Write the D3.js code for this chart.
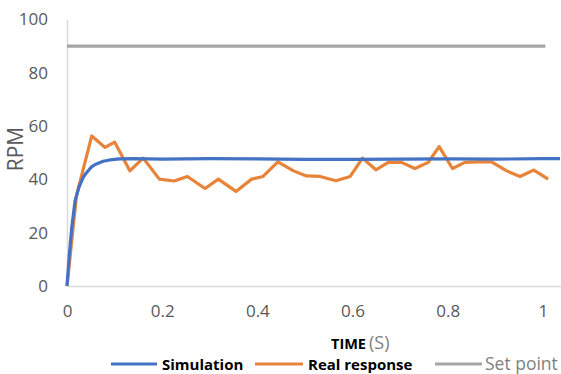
<!DOCTYPE html>
<html>
<head>
<meta charset="utf-8">
<script src="https://cdn.jsdelivr.net/npm/d3@7"></script>
<style>
  body { margin: 0; background: #fff; }
  svg { display: block; font-family: "Open Sans", sans-serif; }
</style>
</head>
<body>
<svg></svg>
<script>
const size = {w: 561, h: 374};

// values
const simTime = [0, 0.005, 0.01, 0.017, 0.025, 0.034, 0.041, 0.052, 0.062, 0.076, 0.09, 0.11, 0.14, 0.2, 0.3, 0.4, 0.5, 0.6, 0.7, 0.8, 0.9, 1.0, 1.036];
const simRpm  = [0, 12, 22, 32, 37, 40.8, 42.5, 44.8, 45.8, 46.8, 47.3, 47.7, 47.8, 47.6, 47.8, 47.7, 47.5, 47.5, 47.6, 47.7, 47.6, 47.8, 47.8];

const realTime = [0, 0.02, 0.052, 0.08, 0.1, 0.132, 0.16, 0.194, 0.225, 0.253, 0.29, 0.318, 0.355, 0.388, 0.412, 0.443,
                  0.476, 0.503, 0.532, 0.565, 0.595, 0.621, 0.649, 0.675, 0.703, 0.731, 0.759, 0.782, 0.81, 0.836,
                  0.864, 0.892, 0.924, 0.952, 0.981, 1.011];
const realRpm  = [0, 34, 56.3, 52, 54, 43.2, 48, 40.1, 39.4, 41.1, 36.6, 40.1, 35.5, 40.1, 41.1, 46.6,
                  43.2, 41.3, 41.1, 39.5, 41.1, 48, 43.6, 46.4, 46.4, 44.1, 46.4, 52.3, 44.1, 46.4,
                  46.6, 46.6, 43.2, 41.1, 43.5, 40.1];

const setTime = [0, 1.005];
const setRpm  = [90, 90];

const xTicks = [0, 0.2, 0.4, 0.6, 0.8, 1];
const yTicks = [0, 20, 40, 60, 80, 100];

const series = [
    {name: 'Simulation', t: simTime, v: simRpm, color: '#4472c4'},
    {name: 'Real response', t: realTime, v: realRpm, color: '#e8833a'},
    {name: 'Set point', t: setTime, v: setRpm, color: '#a5a5a5'}
];

const svg = d3.select('svg')
    .attr('width', size.w)
    .attr('height', size.h);

const x = d3.scaleLinear().domain([0, 1.038]).range([67, 561]);
const y = d3.scaleLinear().domain([0, 100]).range([286, 19.5]);

// axes
let xAxis = svg.append('g')
    .attr('transform', `translate(0,${y(0)})`)
    .call(d3.axisBottom(x).tickValues(xTicks).tickSize(0).tickPadding(19).tickFormat(d3.format('~g')));

let yAxis = svg.append('g')
    .attr('transform', `translate(${x(0)},0)`)
    .call(d3.axisLeft(y).tickValues(yTicks).tickSize(0).tickPadding(19));

svg.selectAll('.domain')
    .attr('stroke', '#d9d9d9')
    .attr('stroke-width', 1.5);

svg.selectAll('.tick text')
    .attr('fill', '#595959')
    .style('font-size', '17px')
    .style('font-family', '"Open Sans", sans-serif');

// lines
let line = d3.line()
    .x(d => x(d[0]))
    .y(d => y(d[1]));

svg.append('g').selectAll('path')
    .data(series.slice().reverse())
    .join('path')
    .attr('d', s => line(d3.zip(s.t, s.v)))
    .attr('fill', 'none')
    .attr('stroke', s => s.color)
    .attr('stroke-width', 3.2)
    .attr('stroke-linejoin', 'round');

// axis titles
svg.append('text')
    .attr('transform', 'translate(23,149) rotate(-90)')
    .attr('text-anchor', 'middle')
    .attr('fill', '#595959')
    .style('font-size', '21px')
    .text('RPM');

let xTitle = svg.append('text')
    .attr('x', 331)
    .attr('y', 349);
xTitle.append('tspan')
    .attr('fill', '#000')
    .style('font-weight', 'bold')
    .style('font-size', '14.5px')
    .text('TIME');
xTitle.append('tspan')
    .attr('dx', 3)
    .attr('fill', '#7f7f7f')
    .style('font-size', '18px')
    .text('(S)');

// legend
const legendX = [111, 255, 435];
const legendLen = [46, 48, 47];

let legend = svg.append('g').selectAll('g')
    .data(series)
    .join('g')
    .attr('transform', (d, i) => `translate(${legendX[i]},364)`);

legend.append('line')
    .attr('x1', 0)
    .attr('x2', (d, i) => legendLen[i])
    .attr('stroke', d => d.color)
    .attr('stroke-width', 3);

legend.append('text')
    .attr('x', (d, i) => legendLen[i] + (i == 2 ? 3 : 5))
    .attr('y', 5.5)
    .attr('fill', (d, i) => i == 2 ? '#7f7f7f' : '#000')
    .style('font-weight', (d, i) => i == 2 ? 'normal' : 'bold')
    .style('font-size', (d, i) => i == 2 ? '17.5px' : '15px')
    .text(d => d.name);
</script>
</body>
</html>
